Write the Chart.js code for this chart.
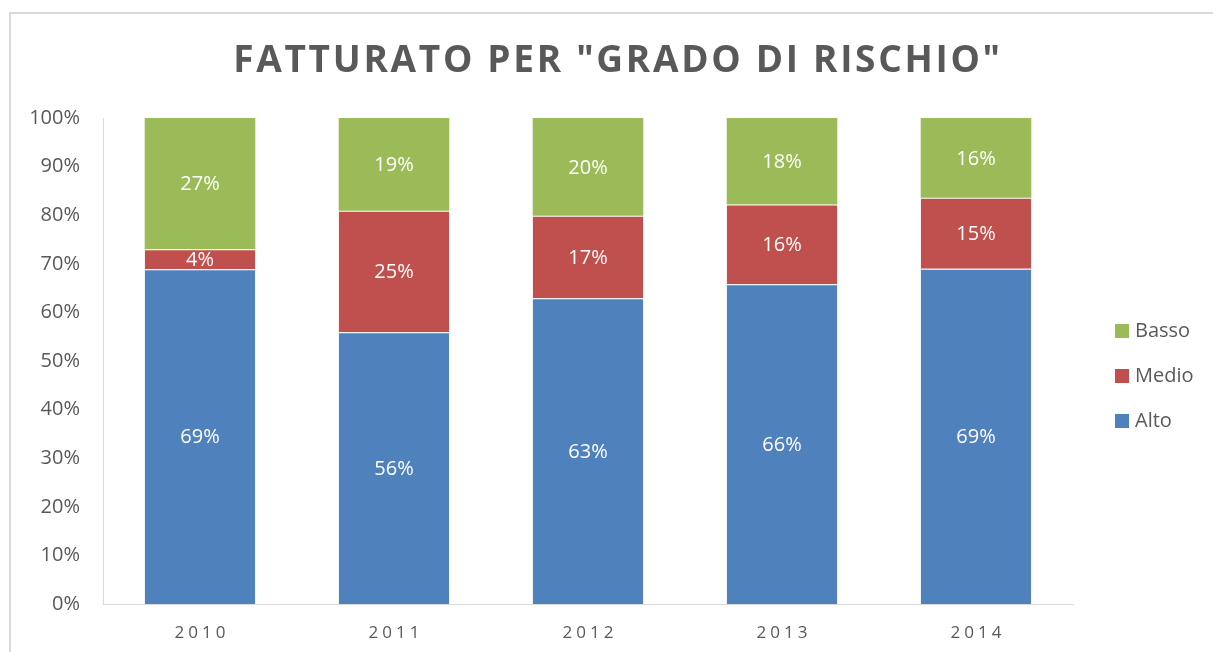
<!DOCTYPE html>
<html>
<head>
<meta charset="utf-8">
<script src="https://cdn.jsdelivr.net/npm/chart.js@4/dist/chart.umd.min.js"></script>
<style>
  html, body { margin: 0; padding: 0; background: #fff; overflow: hidden; }
  #wrap { position: relative; width: 1213px; height: 652px; }
  #frame { position: absolute; left: 9px; top: 12px; width: 1300px; height: 800px; border: 2px solid #d9d9d9; box-sizing: border-box; }
  #c { position: absolute; left: 0; top: 0; }
</style>
</head>
<body>
<div id="wrap">
  <div id="frame"></div>
  <canvas id="c" width="1213" height="652"></canvas>
</div>
<script>
// dati (percentuali)
const anni = ['2010', '2011', '2012', '2013', '2014'];
const alto = [68.9, 55.9, 62.9, 65.8, 69.0];
const medio = [4.1, 25.0, 17.0, 16.4, 14.6];
const basso = [27.0, 19.1, 20.1, 17.8, 16.4];
const yTicks = [0, 10, 20, 30, 40, 50, 60, 70, 80, 90, 100];
const titolo = 'FATTURATO PER "GRADO DI RISCHIO"';

const grigio = '#595959';
const font = "'Open Sans', 'Liberation Sans', sans-serif";

// etichette dentro le barre
const etichette = {
  id: 'etichette',
  afterDatasetsDraw(chart) {
    const ctx = chart.ctx;
    ctx.save();
    ctx.font = '20px ' + font;
    ctx.fillStyle = '#fff';
    ctx.textAlign = 'center';
    ctx.textBaseline = 'middle';
    chart.data.datasets.forEach((ds, i) => {
      chart.getDatasetMeta(i).data.forEach((bar, j) => {
        ctx.fillText(Math.round(ds.data[j]) + '%', bar.x, (bar.y + bar.base) / 2 + 1);
      });
    });
    ctx.restore();
  }
};

// titolo, etichette asse x e legenda (con spaziatura lettere)
const decorazioni = {
  id: 'decorazioni',
  afterDraw(chart) {
    const ctx = chart.ctx;
    const x = chart.scales.x;
    ctx.save();
    ctx.fillStyle = grigio;
    ctx.textBaseline = 'middle';

    ctx.font = 'bold 37px ' + font;
    ctx.letterSpacing = '2.7px';
    ctx.textAlign = 'center';
    ctx.fillText(titolo, 618, 61);

    ctx.font = '17px ' + font;
    ctx.letterSpacing = '4px';
    anni.forEach((a, i) => {
      ctx.fillText(a, x.getPixelForValue(i) + 2, 633);
    });

    ctx.letterSpacing = '0px';
    ctx.textAlign = 'left';
    ctx.font = '20px ' + font;
    const voci = chart.data.datasets.slice().reverse();
    voci.forEach((ds, i) => {
      const y = 331 + i * 45;
      ctx.fillStyle = ds.backgroundColor;
      ctx.fillRect(1115, y - 7, 14, 14);
      ctx.fillStyle = grigio;
      ctx.fillText(ds.label, 1135, y);
    });
    ctx.restore();
  }
};

const ctx = document.getElementById('c').getContext('2d');
new Chart(ctx, {
  type: 'bar',
  data: {
    labels: anni,
    datasets: [
      { label: 'Alto', data: alto, backgroundColor: '#4f81bd' },
      { label: 'Medio', data: medio, backgroundColor: '#c0504d' },
      { label: 'Basso', data: basso, backgroundColor: '#9bbb59', borderWidth: 0 }
    ].map(d => Object.assign({
      borderColor: 'rgba(255,255,255,0.45)',
      borderWidth: { top: 1, right: 0, bottom: 0, left: 0 },
      borderSkipped: false,
      categoryPercentage: 1,
      barPercentage: 0.57
    }, d))
  },
  options: {
    responsive: false,
    animation: false,
    layout: { padding: { top: 118, right: 140, bottom: 48, left: 0 } },
    plugins: {
      legend: { display: false },
      title: { display: false },
      tooltip: { enabled: false }
    },
    scales: {
      x: {
        stacked: true,
        grid: { display: false, drawTicks: false },
        border: { display: true, color: '#d9d9d9', width: 1 },
        ticks: { display: false },
        afterFit(s) { s.height = 0; }
      },
      y: {
        stacked: true,
        min: 0,
        max: 100,
        grid: { display: false, drawTicks: false },
        border: { display: true, color: '#d9d9d9', width: 1 },
        afterBuildTicks(s) { s.ticks = yTicks.map(v => ({ value: v })); },
        ticks: {
          padding: 23,
          color: grigio,
          font: { family: font, size: 20 },
          callback: v => v + '%'
        },
        afterFit(s) { s.width = 103; }
      }
    }
  },
  plugins: [etichette, decorazioni]
});
</script>
</body>
</html>
